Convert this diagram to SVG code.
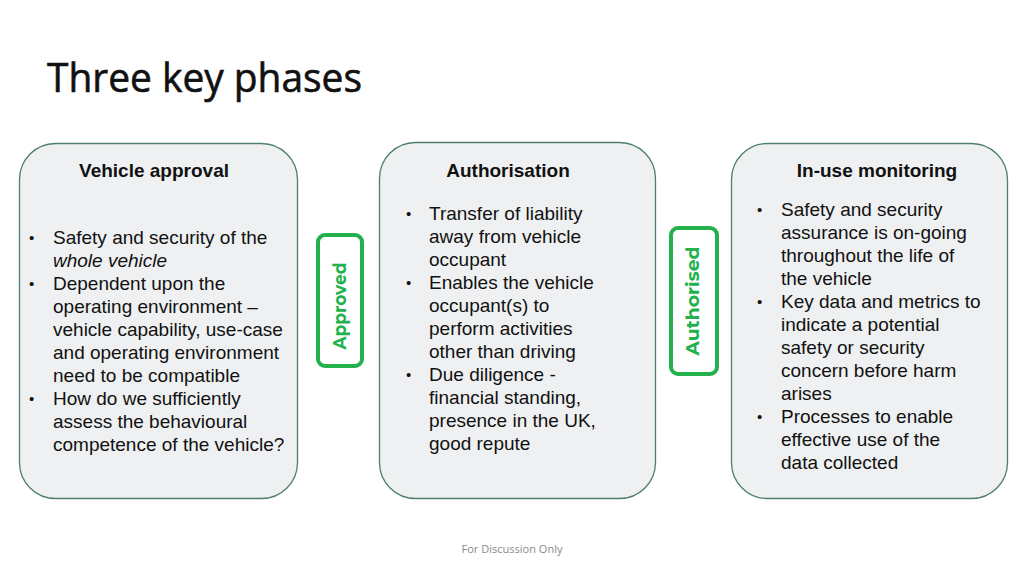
<svg xmlns="http://www.w3.org/2000/svg" width="1024" height="576" viewBox="0 0 1024 576">
<style>
.box{fill:#eef0f1;stroke:#4f7f6c;stroke-width:1.3}
.hd{font-family:"Liberation Sans",Arial,sans-serif;font-weight:bold;font-size:19px;fill:#111;text-anchor:middle}
.tx{font-family:"Liberation Sans",Arial,sans-serif;font-size:19px;fill:#111}
.bl{font-size:15px}
.stamp{fill:#ffffff;stroke:#22b14c;stroke-width:4}
.st{font-family:"Montserrat","Noto Sans","Liberation Sans",sans-serif;font-weight:bold;font-size:18px;fill:#22b14c;text-anchor:middle;dominant-baseline:central}
</style>
<rect width="1024" height="576" fill="#ffffff"/>
<text x="47" y="92" font-family="'Open Sans','Noto Sans',sans-serif" font-size="40" fill="#111" stroke="#111" stroke-width="0.6" textLength="315" lengthAdjust="spacingAndGlyphs">Three key phases</text>

<g id="vehicle-approval">
<rect class="box" x="19.5" y="143.5" width="278" height="355" rx="36"/>
<text class="hd" x="154" y="177">Vehicle approval</text>
<g class="tx">
<text class="bl" x="29" y="243">•</text>
<text x="53" y="244">Safety and security of the</text>
<text x="53" y="267" font-style="italic">whole vehicle</text>
<text class="bl" x="29" y="289">•</text>
<text x="53" y="290">Dependent upon the</text>
<text x="53" y="313">operating environment –</text>
<text x="53" y="336">vehicle capability, use-case</text>
<text x="53" y="359">and operating environment</text>
<text x="53" y="382">need to be compatible</text>
<text class="bl" x="29" y="404">•</text>
<text x="53" y="405">How do we sufficiently</text>
<text x="53" y="428">assess the behavioural</text>
<text x="53" y="451">competence of the vehicle?</text>
</g>
</g>

<g id="authorisation">
<rect class="box" x="379.5" y="142.5" width="276" height="356" rx="36"/>
<text class="hd" x="508" y="177">Authorisation</text>
<g class="tx">
<text class="bl" x="406" y="219">•</text>
<text x="429" y="220">Transfer of liability</text>
<text x="429" y="243">away from vehicle</text>
<text x="429" y="266">occupant</text>
<text class="bl" x="406" y="288">•</text>
<text x="429" y="289">Enables the vehicle</text>
<text x="429" y="312">occupant(s) to</text>
<text x="429" y="335">perform activities</text>
<text x="429" y="358">other than driving</text>
<text class="bl" x="406" y="380">•</text>
<text x="429" y="381">Due diligence -</text>
<text x="429" y="404">financial standing,</text>
<text x="429" y="427">presence in the UK,</text>
<text x="429" y="450">good repute</text>
</g>
</g>

<g id="in-use-monitoring">
<rect class="box" x="731.5" y="143.5" width="276" height="355" rx="36"/>
<text class="hd" x="877" y="177">In-use monitoring</text>
<g class="tx">
<text class="bl" x="757" y="215">•</text>
<text x="781" y="216">Safety and security</text>
<text x="781" y="239">assurance is on-going</text>
<text x="781" y="262">throughout the life of</text>
<text x="781" y="285">the vehicle</text>
<text class="bl" x="757" y="307">•</text>
<text x="781" y="308">Key data and metrics to</text>
<text x="781" y="331">indicate a potential</text>
<text x="781" y="354">safety or security</text>
<text x="781" y="377">concern before harm</text>
<text x="781" y="400">arises</text>
<text class="bl" x="757" y="422">•</text>
<text x="781" y="423">Processes to enable</text>
<text x="781" y="446">effective use of the</text>
<text x="781" y="469">data collected</text>
</g>
</g>

<g id="approved-stamp">
<rect class="stamp" x="318" y="235" width="44" height="131" rx="7"/>
<text class="st" x="340" y="306" transform="rotate(-90 340 306)" textLength="87" lengthAdjust="spacingAndGlyphs">Approved</text>
</g>

<g id="authorised-stamp">
<rect class="stamp" x="671" y="228" width="46" height="146" rx="7"/>
<text class="st" x="693" y="301" transform="rotate(-90 693 301)" textLength="109" lengthAdjust="spacingAndGlyphs">Authorised</text>
</g>

<g id="connectors"></g>

<text x="512" y="553" font-family="'Open Sans','Noto Sans',sans-serif" font-size="11" fill="#8a8a8a" text-anchor="middle" textLength="101" lengthAdjust="spacingAndGlyphs">For Discussion Only</text>
</svg>
